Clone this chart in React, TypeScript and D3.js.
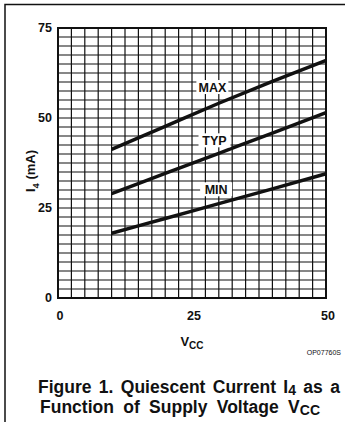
import * as d3 from 'd3';

const vcc = [10, 20, 30, 40, 50];
const maxI = [41.3, 47.7, 54.1, 60.2, 66];
const typI = [29, 34.6, 40.2, 45.8, 51.5];
const minI = [18, 22.1, 26.2, 30.3, 34.5];
const xTicks = [0, 25, 50];
const yTicks = [0, 25, 50, 75];
const curveLabels = [
  { name: 'MAX', v: 28.8, i: 58.6 },
  { name: 'TYP', v: 29.2, i: 43.8 },
  { name: 'MIN', v: 29.5, i: 30.2 },
];

const font = 'Liberation Sans, Arial, sans-serif';

export default function App() {
  const left = 58, right = 326, top = 28, bottom = 298;
  const x = d3.scaleLinear().domain([0, 50]).range([left, right]);
  const y = d3.scaleLinear().domain([0, 75]).range([bottom, top]);
  const line = d3
    .line<number>()
    .x((_, i) => x(vcc[i]))
    .y((d) => y(d))
    .curve(d3.curveMonotoneX);

  const vGrid = d3.range(0, 50.001, 2.5);
  const hGrid = d3.range(0, 75.001, 2.5);

  return (
    <svg width={345} height={422} style={{ position: 'absolute', left: 0, top: 0, background: '#fff' }}>
      <rect width={345} height={422} fill="#fff" />
      <path d="M5,422 V4.5 H345" fill="none" stroke="#111" strokeWidth={1.5} />
      {vGrid.map((v) => (
        <line key={'v' + v} x1={x(v)} x2={x(v)} y1={top} y2={bottom} stroke="#111" strokeWidth={1.2} />
      ))}
      {hGrid.map((v) => (
        <line key={'h' + v} x1={left} x2={right} y1={y(v)} y2={y(v)} stroke="#111" strokeWidth={1.2} />
      ))}
      <rect x={left} y={top} width={right - left} height={bottom - top} fill="none" stroke="#111" strokeWidth={2} />
      {[maxI, typI, minI].map((s, i) => (
        <path key={i} d={line(s) || ''} fill="none" stroke="#111" strokeWidth={3.5} />
      ))}
      {curveLabels.map((c) => (
        <g key={c.name}>
          <rect x={x(c.v) - 16} y={y(c.i) - 7} width={32} height={14} fill="#fff" />
          <text x={x(c.v)} y={y(c.i) + 0.5} textAnchor="middle" dominantBaseline="central" fontFamily={font} fontWeight="bold" fontSize={12.5} fill="#111">
            {c.name}
          </text>
        </g>
      ))}
      {yTicks.map((t) => (
        <text key={'yt' + t} x={52} y={y(t)} textAnchor="end" dominantBaseline="central" fontFamily={font} fontWeight="bold" fontSize={12.5} fill="#111">
          {t}
        </text>
      ))}
      {xTicks.map((t) => (
        <text key={'xt' + t} x={x(t) + 2} y={316} textAnchor="middle" dominantBaseline="central" fontFamily={font} fontWeight="bold" fontSize={12.5} fill="#111">
          {t}
        </text>
      ))}
      <text transform={`translate(35,${(top + bottom) / 2 + 8}) rotate(-90)`} textAnchor="middle" fontFamily={font} fontWeight="bold" fontSize={13} fill="#111">
        I<tspan fontSize={9.5} dy={4}>4</tspan>
        <tspan dy={-4}> (mA)</tspan>
      </text>
      <text x={192} y={346} textAnchor="middle" fontFamily={font} fontWeight="bold" fontSize={13} fill="#111">
        V<tspan fontSize={10} dy={3}>CC</tspan>
      </text>
      <text x={341} y={355} textAnchor="end" fontFamily={font} fontSize={7} fill="#111">
        OP07760S
      </text>
      <text x={38} y={393} textAnchor="start" fontFamily={font} fontWeight="bold" fontSize={17.5} fill="#111" wordSpacing={2.5}>
        Figure 1. Quiescent Current I<tspan fontSize={14} dy={2}>4</tspan>
        <tspan dy={-2}> as a</tspan>
      </text>
      <text x={40} y={413} textAnchor="start" fontFamily={font} fontWeight="bold" fontSize={17.5} fill="#111" wordSpacing={4.5}>
        Function of Supply Voltage V<tspan fontSize={14} dy={2}>CC</tspan>
      </text>
    </svg>
  );
}
